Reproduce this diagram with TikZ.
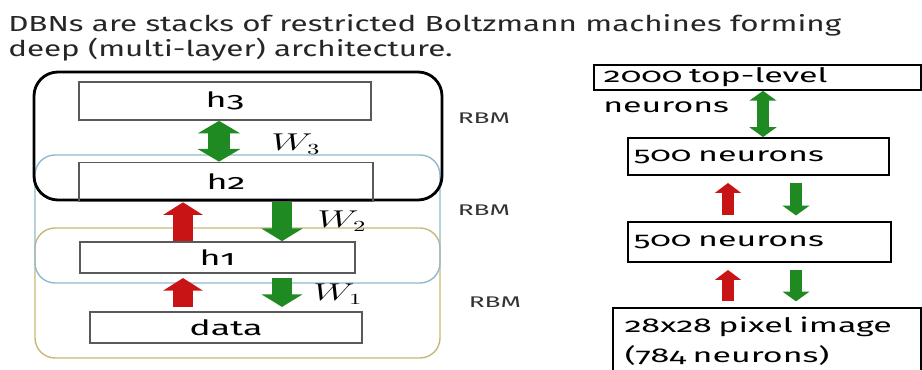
\documentclass[tikz,border=0pt]{standalone}
\usepackage{fontspec}
\setmainfont{Fira Sans}
\newfontfamily\titlefont[FakeStretch=1.44]{Fira Sans}
\newfontfamily\boxfont[Numbers=OldStyle,FakeStretch=1.7]{Fira Sans}
\usetikzlibrary{arrows.meta,positioning}
\definecolor{RBMBlue}{HTML}{8FB9CC}
\definecolor{RBMTan}{HTML}{C8B878}
\definecolor{ArrGreen}{HTML}{1F8A22}
\definecolor{ArrRed}{HTML}{C81414}
\newcommand{\wlab}[1]{\scalebox{1.6}[1]{$W_{#1}$}}

\begin{document}
\begin{tikzpicture}[
    rbm/.style={rounded corners=0.5cm,line width=1pt},
    layer/.style={draw=black!65,line width=1.2pt,minimum height=0.95cm,
      inner sep=0pt,font=\boxfont\fontsize{15}{18}\selectfont},
    neur/.style={draw=black,line width=1.3pt,anchor=west,inner xsep=0.15cm,
      inner ysep=2pt,align=left,font=\boxfont\fontsize{14.2}{21}\selectfont},
    ntext/.style={inner sep=0pt,anchor=west,font=\boxfont\fontsize{14.2}{21}\selectfont},
    rbmtag/.style={inner sep=0pt,text=black!80,font=\boxfont\fontsize{11}{13}\selectfont},
    wtag/.style={inner sep=0pt,font=\fontsize{16}{18}\selectfont},
    upfeed/.style={-{Triangle[width=28pt,length=9pt]},line width=14pt,color=ArrRed},
    downgen/.style={-{Triangle[width=29pt,length=9pt]},line width=14pt,color=ArrGreen},
    twoway/.style={{Triangle[width=30pt,length=9pt]}-{Triangle[width=30pt,length=9pt]},
      line width=15pt,color=ArrGreen},
    smallup/.style={-{Triangle[width=18pt,length=7pt]},line width=8pt,color=ArrRed,
      shorten <=4pt,shorten >=5pt},
    smalldown/.style={-{Triangle[width=19pt,length=7pt]},line width=8pt,color=ArrGreen,
      shorten <=5pt,shorten >=4pt},
    smalltwoway/.style={{Triangle[width=19pt,length=7pt]}-{Triangle[width=19pt,length=7pt]},
      line width=8.5pt,color=ArrGreen}
  ]
    \useasboundingbox (0,0) rectangle (23.05,9.25);
    \clip (0,0) rectangle (23.05,9.25);

    \node[inner sep=0pt,anchor=north west,align=left,text=black!85,
      font=\titlefont\fontsize{15.5}{17.8}\selectfont] (title) at (0.2,8.9)
      {DBNs are stacks of restricted Boltzmann machines forming\\
       deep (multi-layer) architecture.};

    \draw[rbm,draw=RBMTan] (0.875,0.3) rectangle (11.0,3.55);
    \draw[rbm,draw=RBMBlue] (0.875,2.175) rectangle (11.0,5.375);
    \draw[rbm,draw=black,line width=2pt,rounded corners=0.6cm] (0.85,4.25) rectangle (11.05,7.45);

    \node[layer,minimum width=7.3cm] (h3) at (5.625,6.725) {h3};
    \node[layer,minimum width=7.35cm,minimum height=0.975cm] (h2) at (5.65,4.7) {h2};
    \node[layer,minimum width=6.875cm,minimum height=0.775cm] (h1) at (5.44,2.8125) {h1};
    \node[layer,minimum width=6.8cm,minimum height=0.775cm] (data) at (5.65,1.0625) {data};

    \coordinate (ca) at (4.575,0);
    \coordinate (cb) at (7.05,0);
    \coordinate (cc) at (5.475,0);
    \draw[twoway] (h3.south -| cc) -- (h2.north -| cc);
    \draw[upfeed] (h1.north -| ca) -- (h2.south -| ca);
    \draw[downgen] (h2.south -| cb) -- (h1.north -| cb);
    \draw[upfeed,shorten <=3pt,shorten >=3pt] (data.north -| ca) -- (h1.south -| ca);
    \draw[downgen,shorten <=3pt,shorten >=3pt] (h1.south -| cb) -- (data.north -| cb);

    \node[wtag] (w3) at (7.4,5.65) {\wlab{3}};
    \node[wtag] (w2) at (8.55,3.725) {\wlab{2}};
    \node[wtag] (w1) at (8.45,1.9) {\wlab{1}};

    \node[rbmtag] (r3) at (12.1,6.3) {RBM};
    \node[rbmtag] (r2) at (12.1,4.0) {RBM};
    \node[rbmtag] (r1) at (12.375,1.7) {RBM};

    \node[neur,inner xsep=0.25cm,text width=7.675cm] (top) at (14.825,7.3125) {2000 top-level};
    \node[ntext] (topb) at (15.075,6.575) {neurons};
    \node[neur,text width=6.225cm,minimum height=0.925cm] (n500a) at (15.675,5.3375) {500 neurons};
    \node[neur,text width=6.275cm,minimum height=1.0cm] (n500b) at (15.675,3.2) {500 neurons};
    \node[neur,anchor=north west,inner xsep=0.3cm,text width=7.1cm,minimum height=1.65cm] (img)
      at (15.3,1.575) {28x28 pixel image\\(784 neurons)};

    \coordinate (cd) at (19.075,0);
    \coordinate (ce) at (18.2,0);
    \coordinate (cf) at (19.9,0);
    \draw[smalltwoway] (top.south -| cd) -- (n500a.north -| cd);
    \draw[smallup] (n500b.north -| ce) -- (n500a.south -| ce);
    \draw[smalldown] (n500a.south -| cf) -- (n500b.north -| cf);
    \draw[smallup] (img.north -| ce) -- (n500b.south -| ce);
    \draw[smalldown] (n500b.south -| cf) -- (img.north -| cf);
\end{tikzpicture}
\end{document}
